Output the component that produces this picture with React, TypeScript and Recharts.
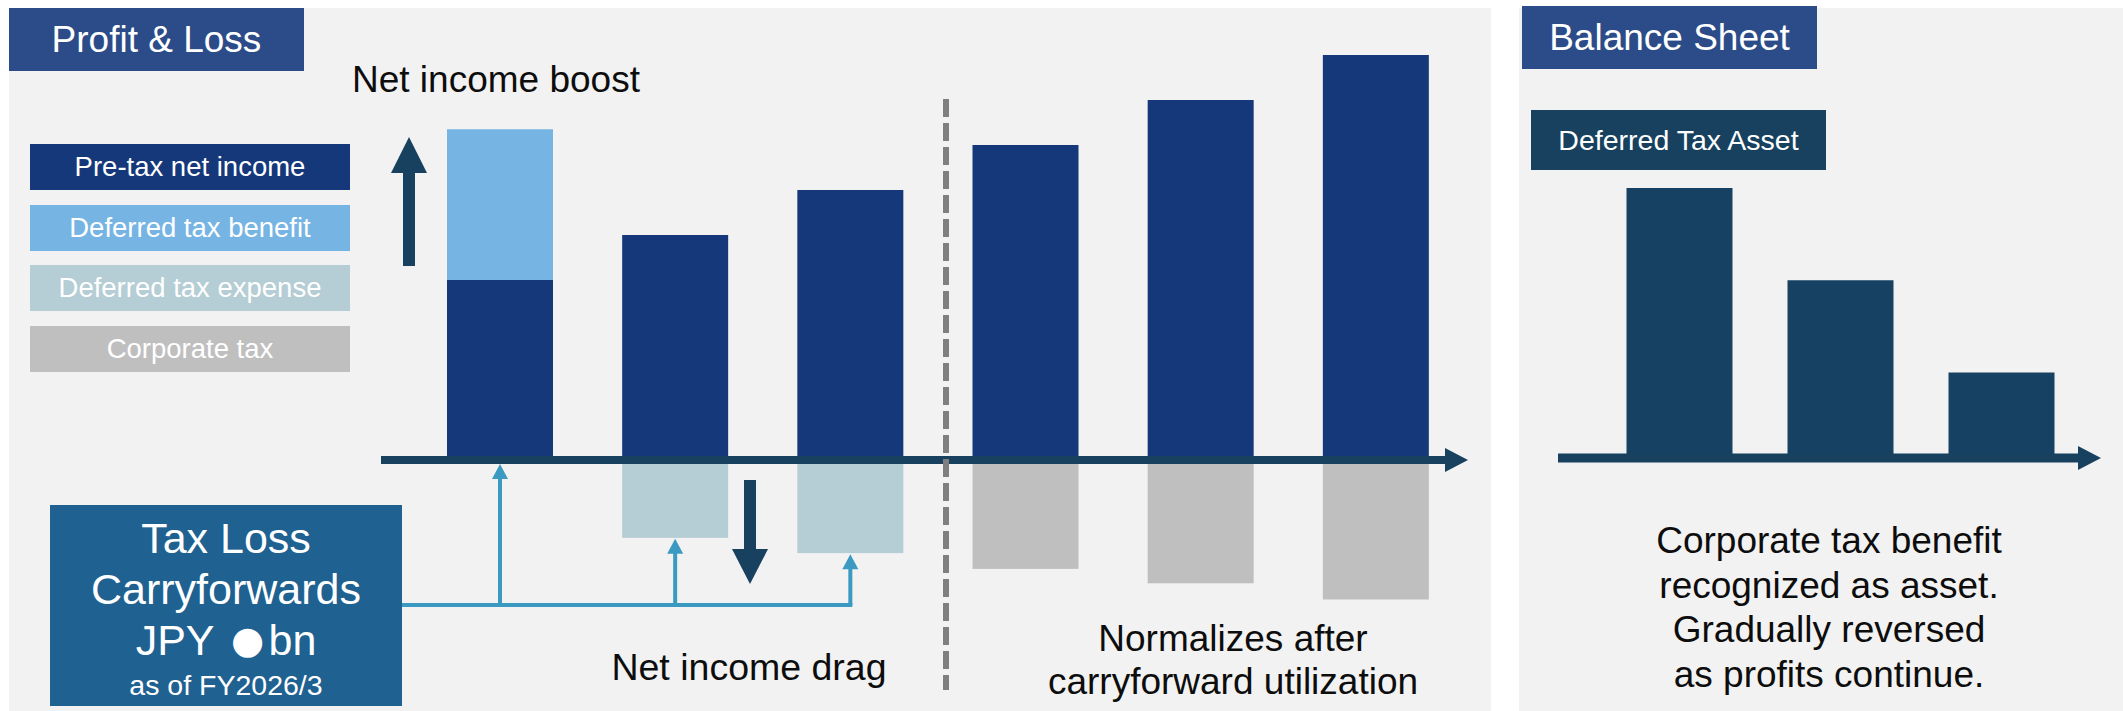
import { BarChart, Bar, XAxis, YAxis, ReferenceLine } from "recharts";

// P&L periods (illustrative, no labels drawn)
const periods = ["P1", "P2", "P3", "P4", "P5", "P6"];
const preTaxIncome = [40, 50, 60, 70, 80, 90];
const deferredTaxBenefit = [33.5, null, null, null, null, null];
const deferredTaxExpense = [null, -17.3, -20.7, null, null, null];
const corporateTax = [null, null, null, -24.2, -27.4, -31];
// periods fed by the tax loss carryforwards
const carryforwardLinks = [true, true, true, false, false, false];

// balance sheet side
const assetPeriods = ["A1", "A2", "A3"];
const deferredTaxAsset = [60, 39.5, 19];

const legendItems = [
  { label: "Pre-tax net income", color: "#15387b" },
  { label: "Deferred tax benefit", color: "#75b4e3" },
  { label: "Deferred tax expense", color: "#b5cdd4" },
  { label: "Corporate tax", color: "#bfbfbf" },
];

const taxBoxLines = ["Tax Loss", "Carryforwards"];
const taxBoxNote = "as of FY2026/3";
const bsNote = [
  "Corporate tax benefit",
  "recognized as asset.",
  "Gradually reversed",
  "as profits continue.",
];

const plData = periods.map((p, i) => ({
  period: p,
  preTax: preTaxIncome[i],
  benefit: deferredTaxBenefit[i],
  expense: deferredTaxExpense[i],
  corpTax: corporateTax[i],
  link: carryforwardLinks[i],
}));

const bsData = assetPeriods.map((p, i) => ({ period: p, dta: deferredTaxAsset[i] }));

const NARROW = "'Liberation Sans Narrow', 'Arial Narrow', 'Liberation Sans', Arial, sans-serif";
const SANS = "'Liberation Sans', Arial, sans-serif";

const PANEL = "#f2f2f2";
const HEADER = "#2b4c88";
const DARK = "#17415f";
const LINK = "#3a9ac2";

const LINK_Y = 605;
const BOX_RIGHT = 402;
const BS_LEFT = 1519;

function LinkArrow({ cx, tipY }: { cx: number; tipY: number }) {
  return (
    <g>
      <line x1={BOX_RIGHT} y1={LINK_Y} x2={cx + 2} y2={LINK_Y} stroke={LINK} strokeWidth={4} />
      <line x1={cx} y1={LINK_Y} x2={cx} y2={tipY + 12} stroke={LINK} strokeWidth={4} />
      <polygon points={`${cx},${tipY} ${cx - 8},${tipY + 15} ${cx + 8},${tipY + 15}`} fill={LINK} />
    </g>
  );
}

function box(p: any) {
  const top = Math.min(p.y, p.y + p.height);
  const h = Math.abs(p.height);
  return { top, h };
}

const preTaxShape = (p: any) => {
  if (!p.height) return <g />;
  const { top, h } = box(p);
  const linked = p.payload?.link && p.payload?.expense == null;
  return (
    <g>
      <rect x={p.x} y={top} width={p.width} height={h} fill={p.fill} />
      {linked && <LinkArrow cx={p.x + p.width / 2} tipY={top + h + 4} />}
    </g>
  );
};

const expenseShape = (p: any) => {
  if (!p.height) return <g />;
  const { top, h } = box(p);
  return (
    <g>
      <rect x={p.x} y={top} width={p.width} height={h} fill={p.fill} />
      {p.payload?.link && <LinkArrow cx={p.x + p.width / 2} tipY={top + h + 1} />}
    </g>
  );
};

const plainShape = (p: any) => {
  if (!p.height) return <g />;
  const { top, h } = box(p);
  return <rect x={p.x} y={top} width={p.width} height={h} fill={p.fill} />;
};

// horizontal axis with arrow head, drawn along the zero line
const axisShape = (from: number, to: number, thick: number) => (p: any) => {
  const y = p.y1;
  return (
    <g>
      <rect x={from} y={y - thick / 2} width={to - 21 - from} height={thick} fill={DARK} />
      <polygon points={`${to - 23},${y - 12} ${to},${y} ${to - 23},${y + 12}`} fill={DARK} />
    </g>
  );
};

const centered = (extra: React.CSSProperties): React.CSSProperties => ({
  position: "absolute",
  display: "flex",
  alignItems: "center",
  justifyContent: "center",
  color: "#fff",
  whiteSpace: "nowrap",
  ...extra,
});

function lineText(text: string, cx: number, cy: number, size: number, font: string) {
  return (
    <div
      key={text}
      style={{
        position: "absolute",
        left: cx - 300,
        width: 600,
        top: cy - size * 0.6,
        height: size * 1.2,
        lineHeight: `${size * 1.2}px`,
        textAlign: "center",
        fontFamily: font,
        fontSize: size,
        color: "#0d0d0d",
        whiteSpace: "nowrap",
      }}
    >
      {text}
    </div>
  );
}

export default function App() {
  return (
    <div
      style={{
        position: "absolute",
        left: 0,
        top: 0,
        width: 2123,
        height: 711,
        background: "#fff",
        overflow: "hidden",
      }}
    >
      <div style={{ position: "absolute", left: 9, top: 8, width: 1482, height: 703, background: PANEL }} />
      <div style={{ position: "absolute", left: BS_LEFT, top: 8, width: 2123 - BS_LEFT, height: 703, background: PANEL }} />

      <div style={{ position: "absolute", left: 0, top: 0 }}>
        <BarChart
          width={1491}
          height={711}
          data={plData}
          stackOffset="sign"
          margin={{ top: 10, left: 412, right: 28, bottom: 26 }}
        >
          <XAxis dataKey="period" hide />
          <YAxis hide domain={[-50, 100]} type="number" />
          <Bar dataKey="preTax" stackId="pl" fill="#15387b" barSize={106} shape={preTaxShape} isAnimationActive={false} />
          <Bar dataKey="benefit" stackId="pl" fill="#75b4e3" barSize={106} shape={plainShape} isAnimationActive={false} />
          <Bar dataKey="expense" stackId="pl" fill="#b5cdd4" barSize={106} shape={expenseShape} isAnimationActive={false} />
          <Bar dataKey="corpTax" stackId="pl" fill="#bfbfbf" barSize={106} shape={plainShape} isAnimationActive={false} />
          <ReferenceLine y={0} shape={axisShape(381, 1468, 8)} ifOverflow="visible" />
        </BarChart>
      </div>

      <div style={{ position: "absolute", left: BS_LEFT, top: 0 }}>
        <BarChart
          width={2123 - BS_LEFT}
          height={711}
          data={bsData}
          margin={{ top: 8, left: 79.5, right: 41.5, bottom: 28 }}
        >
          <XAxis dataKey="period" hide />
          <YAxis hide domain={[-50, 100]} type="number" />
          <Bar dataKey="dta" fill="#164162" barSize={106} isAnimationActive={false} />
          <ReferenceLine y={0} shape={axisShape(1558 - BS_LEFT, 2101 - BS_LEFT, 9)} ifOverflow="visible" />
        </BarChart>
      </div>

      {/* arrows and period divider */}
      <svg width={2123} height={711} style={{ position: "absolute", left: 0, top: 0, pointerEvents: "none" }}>
        <line x1={946} y1={99} x2={946} y2={690} stroke="#7f7f7f" strokeWidth={6} strokeDasharray="18 6" />
        <rect x={403} y={170} width={12} height={96} fill={DARK} />
        <polygon points="409,137 391,173 427,173" fill={DARK} />
        <rect x={744} y={480} width={12} height={72} fill={DARK} />
        <polygon points="732,549 768,549 750,584" fill={DARK} />
      </svg>

      <div style={centered({ left: 9, top: 8, width: 295, height: 63, background: HEADER, fontFamily: NARROW, fontSize: 37 })}>
        Profit &amp; Loss
      </div>
      <div
        style={{
          position: "absolute",
          left: 352,
          top: 58,
          fontFamily: NARROW,
          fontSize: 37,
          lineHeight: "44px",
          color: "#0d0d0d",
          whiteSpace: "nowrap",
        }}
      >
        Net income boost
      </div>

      {legendItems.map((it, i) => (
        <div
          key={it.label}
          style={centered({
            left: 30,
            top: 144 + i * 60.7,
            width: 320,
            height: 46,
            background: it.color,
            fontFamily: NARROW,
            fontSize: 27.5,
          })}
        >
          {it.label}
        </div>
      ))}

      <div style={{ position: "absolute", left: 50, top: 505, width: 352, height: 201, background: "#1f6191" }} />
      {taxBoxLines.map((t, i) => (
        <div
          key={t}
          style={centered({
            left: 50,
            width: 352,
            top: 538 + i * 51 - 25,
            height: 50,
            fontFamily: NARROW,
            fontSize: 43,
          })}
        >
          {t}
        </div>
      ))}
      <div style={centered({ left: 50, width: 352, top: 615, height: 50, fontFamily: NARROW, fontSize: 43 })}>
        JPY
        <span
          style={{
            display: "inline-flex",
            justifyContent: "center",
            alignItems: "center",
            width: 30,
            height: 50,
            margin: "0 6px 0 18px",
            fontFamily: "'DejaVu Sans', sans-serif",
            fontSize: 38,
            lineHeight: "50px",
          }}
        >
          ●
        </span>
        bn
      </div>
      <div style={centered({ left: 50, width: 352, top: 668, height: 34, fontFamily: NARROW, fontSize: 28.5 })}>
        {taxBoxNote}
      </div>

      {lineText("Net income drag", 749, 667, 37.5, NARROW)}
      {lineText("Normalizes after", 1233, 639, 37, NARROW)}
      {lineText("carryforward utilization", 1233, 682, 37, NARROW)}

      <div style={centered({ left: 1522, top: 6, width: 295, height: 63, background: HEADER, fontFamily: SANS, fontSize: 37 })}>
        Balance Sheet
      </div>
      <div style={centered({ left: 1531, top: 110, width: 295, height: 60, background: DARK, fontFamily: SANS, fontSize: 28.5 })}>
        Deferred Tax Asset
      </div>
      {bsNote.map((t, i) => lineText(t, 1829, 541 + i * 44.7, 37, SANS))}
    </div>
  );
}
